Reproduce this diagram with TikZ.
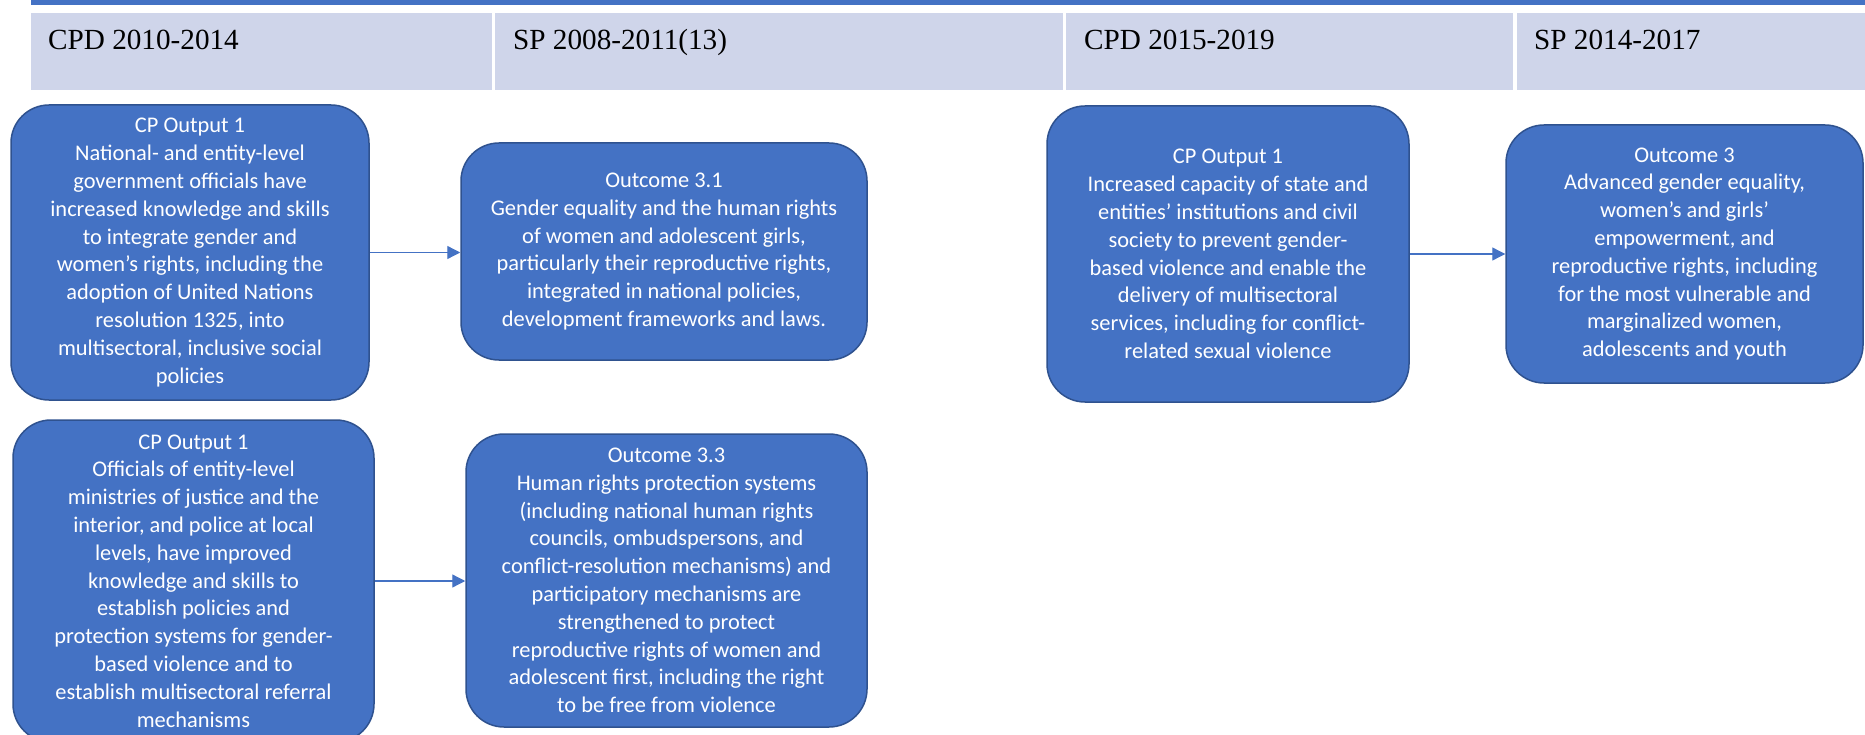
\documentclass[tikz,border=0pt]{standalone}
\usepackage{fontspec}
\setmainfont{Liberation Serif}
\newfontfamily\carlito{Carlito}
\usetikzlibrary{arrows.meta}
\definecolor{boxblue}{HTML}{4472C4}
\definecolor{boxedge}{HTML}{2F528F}
\definecolor{hdrfill}{HTML}{CFD5EA}
\begin{document}
\begin{tikzpicture}[x=1pt,y=-1pt,
  box/.style={draw=boxedge, line width=1.5pt, fill=boxblue, rounded corners=38pt,
    inner sep=0pt, align=center, text=white,
    font=\carlito\fontsize{22.4}{27.8}\selectfont},
  hdr/.style={fill=hdrfill, draw=none, inner sep=0pt, anchor=north west},
  hdrtext/.style={anchor=base west, inner sep=0pt, font=\fontsize{29.2}{32}\selectfont},
  arr/.style={draw=boxblue, line width=1.3pt, -{Triangle[length=13pt,width=13pt]}}
]
\useasboundingbox (0,0) rectangle (1865,735);
\fill[white] (0,0) rectangle (1865,735);
% top bar
\fill[boxblue] (31,0) rectangle (1865,5);
% header cells
\node[hdr, minimum width=461pt, minimum height=77pt] (h1) at (31,13) {};
\node[hdr, minimum width=568pt, minimum height=77pt] (h2) at (495,13) {};
\node[hdr, minimum width=447pt, minimum height=77pt] (h3) at (1066,13) {};
\node[hdr, minimum width=348pt, minimum height=77pt] (h4) at (1517,13) {};
\node[hdrtext] (t1) at (48,50) {CPD 2010-2014};
\node[hdrtext] (t2) at (513,50) {SP 2008-2011(13)};
\node[hdrtext] (t3) at (1084,50) {CPD 2015-2019};
\node[hdrtext] (t4) at (1534,50) {SP 2014-2017};
% boxes
\node[box, minimum width=358pt, minimum height=295pt] (b1) at (190,252.5) {CP Output 1\\
National- and entity-level\\
government officials have\\
increased knowledge and skills\\
to integrate gender and\\
women’s rights, including the\\
adoption of United Nations\\
resolution 1325, into\\
multisectoral, inclusive social\\
policies};
\node[box, minimum width=406pt, minimum height=217pt] (b2) at (664,251.5) {Outcome 3.1\\
Gender equality and the human rights\\
of women and adolescent girls,\\
particularly their reproductive rights,\\
integrated in national policies,\\
development frameworks and laws.};
\node[box, minimum width=361pt, minimum height=322pt] (b3) at (193.5,581) {CP Output 1\\
Officials of entity-level\\
ministries of justice and the\\
interior, and police at local\\
levels, have improved\\
knowledge and skills to\\
establish policies and\\
protection systems for gender-\\
based violence and to\\
establish multisectoral referral\\
mechanisms};
\node[box, minimum width=401pt, minimum height=293pt] (b4) at (666.5,580.5) {Outcome 3.3\\
Human rights protection systems\\
(including national human rights\\
councils, ombudspersons, and\\
conflict-resolution mechanisms) and\\
participatory mechanisms are\\
strengthened to protect\\
reproductive rights of women and\\
adolescent first, including the right\\
to be free from violence};
\node[box, minimum width=362pt, minimum height=296pt] (b5) at (1228,254) {CP Output 1\\
Increased capacity of state and\\
entities’ institutions and civil\\
society to prevent gender-\\
based violence and enable the\\
delivery of multisectoral\\
services, including for conflict-\\
related sexual violence};
\node[box, minimum width=357pt, minimum height=258pt] (b6) at (1684.5,254) {Outcome 3\\
Advanced gender equality,\\
women’s and girls’\\
empowerment, and\\
reproductive rights, including\\
for the most vulnerable and\\
marginalized women,\\
adolescents and youth};
% arrows
\draw[arr] (b1.east) -- (b1.east -| b2.west);
\draw[arr] (b3.east) -- (b3.east -| b4.west);
\draw[arr] (b5.east) -- (b5.east -| b6.west);
\end{tikzpicture}
\end{document}
